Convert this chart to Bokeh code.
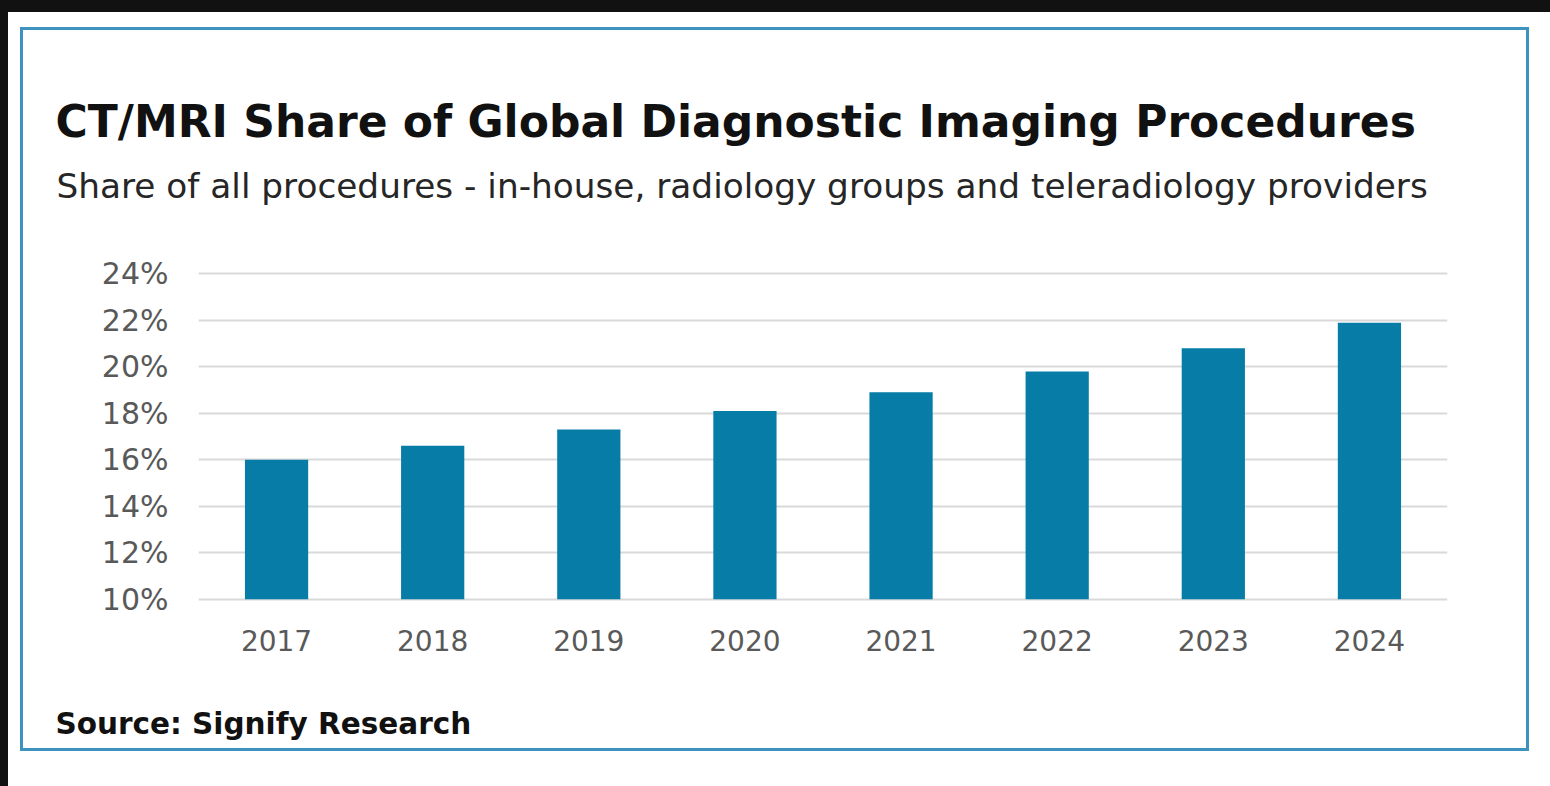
from bokeh.plotting import figure
from bokeh.models import Range1d, FixedTicker, Title, GlobalInlineStyleSheet
from bokeh.embed import file_html
from bokeh.resources import INLINE

years = ["2017", "2018", "2019", "2020", "2021", "2022", "2023", "2024"]
share = [16.0, 16.6, 17.3, 18.1, 18.9, 19.8, 20.8, 21.9]
y_ticks = [10, 12, 14, 16, 18, 20, 22, 24]
y_tick_labels = ["10%", "12%", "14%", "16%", "18%", "20%", "22%", "24%"]
title_text = "CT/MRI Share of Global Diagnostic Imaging Procedures"
subtitle_text = "Share of all procedures - in-house, radiology groups and teleradiology providers"
source_text = "Source: Signify Research"

W, H = 1503, 718
p = figure(x_range=years, y_range=Range1d(9.9, 24.1), width=W, height=H,
           output_backend="svg", toolbar_location=None,
           min_border_left=175, min_border_right=79, min_border_top=241, min_border_bottom=147)
p.title.visible = False
p.outline_line_color = None
p.background_fill_color = "white"
p.border_fill_color = "white"

p.vbar(x=years, top=share, bottom=10, width=0.405, fill_color="#077ca7", line_color=None)

p.xgrid.grid_line_color = None
p.ygrid.grid_line_color = "#d9d9d9"
p.ygrid.grid_line_width = 2
p.yaxis.ticker = FixedTicker(ticks=y_ticks)
p.yaxis.major_label_overrides = {t: l for t, l in zip(y_ticks, y_tick_labels)}

for ax in (p.xaxis, p.yaxis):
    ax.axis_line_color = None
    ax.major_tick_line_color = None
    ax.minor_tick_line_color = None
    ax.major_label_text_font = "DejaVu Sans"
    ax.major_label_text_color = "#595959"
p.xaxis.major_label_text_font_size = "28px"
p.yaxis.major_label_text_font_size = "30px"
p.xaxis.major_label_standoff = 22
p.yaxis.major_label_standoff = 24

# spacer between plot area and subtitle
p.add_layout(Title(text=" ", standoff=48, text_font_size="10px"), "above")
p.add_layout(Title(text=subtitle_text, align="left", offset=-142, standoff=10,
                   text_font="DejaVu Sans", text_font_style="normal", text_font_size="34.3px",
                   text_color="#262626"), "above")
p.add_layout(Title(text=title_text, align="left", offset=-143, standoff=24,
                   text_font="DejaVu Sans", text_font_style="bold", text_font_size="44px",
                   text_color="#111111"), "above")
# spacer between x labels and source
p.add_layout(Title(text=" ", standoff=33, text_font_size="10px"), "below")
p.add_layout(Title(text=source_text, align="left", offset=-143, standoff=10,
                   text_font="DejaVu Sans", text_font_style="bold", text_font_size="29.5px",
                   text_color="#111111"), "below")

p.styles = {"margin-left": "23px", "margin-top": "30px", "box-shadow": "0 0 0 3px #3d93bd"}
p.stylesheets = [GlobalInlineStyleSheet(css=(
    "html, body { background: "
    "linear-gradient(#111111, #111111) 0 0 / 100% 12px no-repeat, "
    "linear-gradient(#111111, #111111) 0 0 / 8px 100% no-repeat, #ffffff !important; }"
))]

open("out.html", "w").write(file_html(p, INLINE))
